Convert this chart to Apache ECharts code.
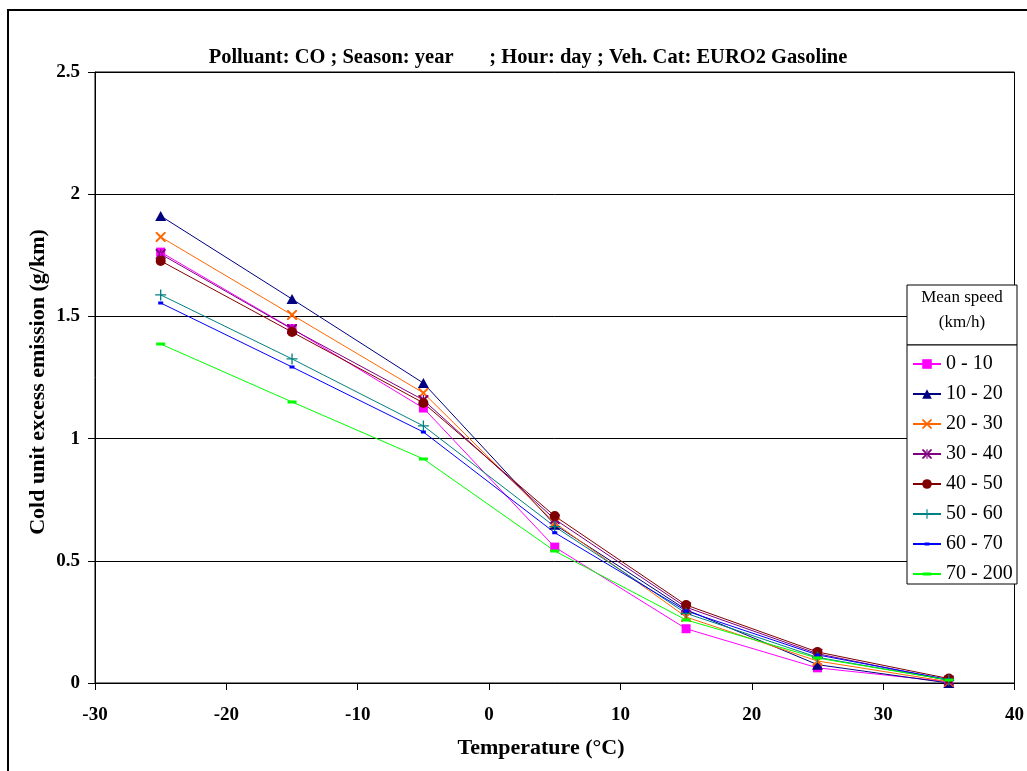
<!DOCTYPE html>
<html>
<head>
<meta charset="utf-8">
<script src="https://cdn.jsdelivr.net/npm/echarts@6/dist/echarts.min.js"></script>
<style>html,body{margin:0;padding:0;background:#fff;}#c{width:1027px;height:771px;}</style>
</head>
<body>
<div id="c"></div>
<script>
const temperatures = [-25, -15, -5, 5, 15, 25, 35];
const seriesNames = ['0 - 10', '10 - 20', '20 - 30', '30 - 40', '40 - 50', '50 - 60', '60 - 70', '70 - 200'];
const s0_10   = [1.763, 1.450, 1.125, 0.556, 0.222, 0.062, 0.005];
const s10_20  = [1.911, 1.571, 1.227, 0.648, 0.300, 0.075, 0.000];
const s20_30  = [1.825, 1.506, 1.187, 0.655, 0.270, 0.090, 0.005];
const s30_40  = [1.755, 1.448, 1.158, 0.670, 0.310, 0.120, 0.010];
const s40_50  = [1.727, 1.436, 1.146, 0.683, 0.319, 0.127, 0.018];
const s50_60  = [1.588, 1.326, 1.052, 0.640, 0.285, 0.105, 0.012];
const s60_70  = [1.555, 1.293, 1.027, 0.615, 0.295, 0.115, 0.014];
const s70_200 = [1.387, 1.150, 0.917, 0.540, 0.258, 0.102, 0.012];
const seriesValues = [s0_10, s10_20, s20_30, s30_40, s40_50, s50_60, s60_70, s70_200];
const xTickLabels = ['-30', '-20', '-10', '0', '10', '20', '30', '40'];
const yTickLabels = ['0', '0.5', '1', '1.5', '2', '2.5'];

const titleText = 'Polluant: CO ; Season: year       ; Hour: day ; Veh. Cat: EURO2 Gasoline';
const xName = 'Temperature (\u00B0C)';
const yName = 'Cold unit excess emission (g/km)';
const legendTitle = 'Mean speed\n(km/h)';

const colors = ['#FF00FF', '#000080', '#FF6600', '#800080', '#800000', '#008080', '#0000FF', '#00FF00'];
const X = 'path://M0,0 L1.4,0 L5,3.6 L8.6,0 L10,0 L10,1.4 L6.4,5 L10,8.6 L10,10 L8.6,10 L5,6.4 L1.4,10 L0,10 L0,8.6 L3.6,5 L0,1.4 Z';
const STAR = 'path://M0,0 L1.4,0 L5,3.6 L8.6,0 L10,0 L10,1.4 L6.4,5 L10,8.6 L10,10 L8.6,10 L5,6.4 L1.4,10 L0,10 L0,8.6 L3.6,5 L0,1.4 Z M4.4,0 L4.4,10 L5.6,10 L5.6,0 Z';
const PLUS = 'path://M4.4,0 L5.6,0 L5.6,4.4 L10,4.4 L10,5.6 L5.6,5.6 L5.6,10 L4.4,10 L4.4,5.6 L0,5.6 L0,4.4 L4.4,4.4 Z';
const DASH_S = 'path://M2.5,3.5 L7.5,3.5 L7.5,6.5 L2.5,6.5 Z M0,0 L0.01,0 L0,0.01 Z M10,10 L9.99,10 L10,9.99 Z';
const DASH_L = 'path://M0.5,3.5 L9.5,3.5 L9.5,6.5 L0.5,6.5 Z M0,0 L0.01,0 L0,0.01 Z M10,10 L9.99,10 L10,9.99 Z';
const symbols = ['rect', 'triangle', X, STAR, 'circle', PLUS, DASH_S, DASH_L];
const sizes = [9, [11, 10], 10, 10, 10, 11, 10, 10];

const FONT = '"Liberation Serif", "Times New Roman", serif';

const chart = echarts.init(document.getElementById('c'), null, {renderer: 'canvas'});

const series = seriesNames.map((name, i) => ({
  name: name,
  type: 'line',
  data: temperatures.map((t, j) => [t, seriesValues[i][j]]),
  symbol: symbols[i],
  symbolSize: sizes[i],
  showAllSymbol: true,
  lineStyle: {color: colors[i], width: 1},
  itemStyle: {color: colors[i]},
  emphasis: {disabled: true},
  animation: false,
  z: 2
}));

chart.setOption({
  animation: false,
  backgroundColor: '#fff',
  title: {
    text: titleText,
    left: 523,
    top: 42,
    textAlign: 'center',
    textStyle: {fontFamily: FONT, fontWeight: 'bold', fontSize: 20.5, color: '#000'}
  },
  grid: {
    left: 95, right: 10, top: 72, bottom: 88,
    show: true, borderColor: '#000', borderWidth: 1, backgroundColor: 'transparent',
    containLabel: false
  },
  xAxis: {
    type: 'value', min: -30, max: 40, interval: 10,
    axisLine: {show: true, onZero: false, lineStyle: {color: '#000', width: 1}},
    axisTick: {show: true, inside: false, length: 7, lineStyle: {color: '#000'}},
    axisLabel: {
      margin: 23, color: '#000', fontFamily: FONT, fontWeight: 'bold', fontSize: 19,
      formatter: v => xTickLabels[Math.round((v + 30) / 10)]
    },
    splitLine: {show: false}
  },
  yAxis: {
    type: 'value', min: 0, max: 2.5, interval: 0.5,
    axisLine: {show: true, onZero: false, lineStyle: {color: '#000', width: 1}},
    axisTick: {show: true, inside: false, length: 7, lineStyle: {color: '#000'}},
    axisLabel: {
      margin: 15, color: '#000', fontFamily: FONT, fontWeight: 'bold', fontSize: 19,
      formatter: v => yTickLabels[Math.round(v / 0.5)]
    },
    splitLine: {show: true, lineStyle: {color: '#000', width: 1}}
  },
  legend: {
    data: seriesNames,
    orient: 'vertical',
    left: 912,
    top: 354,
    padding: 0,
    itemWidth: 28,
    itemHeight: 12,
    itemGap: 10,
    z: 10,
    textStyle: {fontFamily: FONT, fontSize: 20, color: '#000'},
    selectedMode: false
  },
  graphic: [
    {type: 'rect', z: 8, shape: {x: 907, y: 285, width: 110, height: 60},
     style: {fill: '#fff', stroke: '#000', lineWidth: 1}},
    {type: 'rect', z: 8, shape: {x: 907, y: 345, width: 110, height: 239},
     style: {fill: '#fff', stroke: '#000', lineWidth: 1}},
    {type: 'text', z: 9, x: 962, y: 310,
     style: {text: legendTitle, fontFamily: FONT, fontSize: 17, fill: '#000', align: 'center', verticalAlign: 'middle', lineHeight: 25}},
    {type: 'text', z: 9, x: 38, y: 382, rotation: Math.PI / 2,
     style: {text: yName, fontFamily: FONT, fontWeight: 'bold', fontSize: 22, fill: '#000', align: 'center', verticalAlign: 'middle'}},
    {type: 'text', z: 9, x: 541, y: 748,
     style: {text: xName, fontFamily: FONT, fontWeight: 'bold', fontSize: 22, fill: '#000', align: 'center', verticalAlign: 'middle'}},
    {type: 'rect', z: 9, shape: {x: 8, y: 10, width: 1040, height: 800},
     style: {fill: 'none', stroke: '#000', lineWidth: 2}}
  ],
  series: series
});
</script>
</body>
</html>
